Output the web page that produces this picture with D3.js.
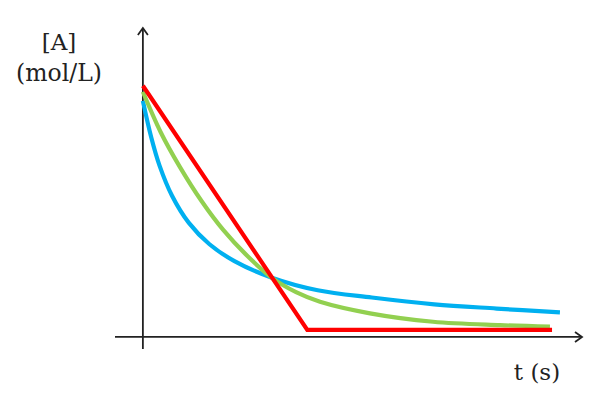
<!DOCTYPE html>
<html>
<head>
<meta charset="utf-8">
<script src="https://cdn.jsdelivr.net/npm/d3@7"></script>
<style>
html,body{margin:0;padding:0;background:#fff;}
svg{display:block;}
text{font-family:"DejaVu Serif",serif;fill:#222;}
</style>
</head>
<body>
<svg id="chart" width="600" height="400"></svg>
<script>
// Data (t in arbitrary units, concentration relative to red's initial value)
const redT   = [0, 39.5, 98.3];
const redC   = [1.0, 0.028, 0.028];
const greenT = [0, 4.28, 8.91, 14.13, 19.25, 25.0, 30.95, 36.8, 42.55, 54.56, 69.7, 85.8, 97.8];
const greenC = [0.976, 0.815, 0.676, 0.540, 0.427, 0.324, 0.236, 0.178, 0.140, 0.094, 0.0605, 0.047, 0.041];
const blueT  = [0, 2, 4, 7, 11, 16, 22, 31, 42, 55, 70, 85, 100.2];
const blueC  = [0.940, 0.795, 0.682, 0.562, 0.455, 0.369, 0.302, 0.236, 0.186, 0.157, 0.130, 0.113, 0.0975];
const yLabel = ["[A]", "(mol/L)"];
const xLabel = "t (s)";

const svg = d3.select("#chart");
const x = d3.scaleLinear().domain([-6.7, 105.5]).range([115, 582]);
const y = d3.scaleLinear().domain([-0.048, 1.23]).range([349, 28]);

// axes
const axisColor = "#222";
const aw = 1.8;
svg.append("line")
  .attr("x1", x(x.domain()[0])).attr("x2", x(x.domain()[1]))
  .attr("y1", y(0)).attr("y2", y(0))
  .attr("stroke", axisColor).attr("stroke-width", aw);
svg.append("line")
  .attr("x1", x(0)).attr("x2", x(0))
  .attr("y1", y(y.domain()[0])).attr("y2", y(y.domain()[1]))
  .attr("stroke", axisColor).attr("stroke-width", aw);
// arrowheads
const xt = [x(x.domain()[1]), y(0)];
svg.append("path")
  .attr("d", `M${xt[0]-7},${xt[1]-5}L${xt[0]},${xt[1]}L${xt[0]-7},${xt[1]+5}`)
  .attr("fill", "none").attr("stroke", axisColor).attr("stroke-width", aw);
const yt = [x(0), y(y.domain()[1])];
svg.append("path")
  .attr("d", `M${yt[0]-5},${yt[1]+7}L${yt[0]},${yt[1]}L${yt[0]+5},${yt[1]+7}`)
  .attr("fill", "none").attr("stroke", axisColor).attr("stroke-width", aw);

const series = [
  {t: blueT, c: blueC, color: "#00b0f0", curve: d3.curveCatmullRom.alpha(0.5)},
  {t: greenT, c: greenC, color: "#92d050", curve: d3.curveCatmullRom.alpha(0.5)},
  {t: redT, c: redC, color: "#ff0000", curve: d3.curveLinear}
];
series.forEach(s => {
  const pts = s.t.map((t, i) => [t, s.c[i]]);
  const line = d3.line().x(d => x(d[0])).y(d => y(d[1])).curve(s.curve);
  svg.append("path").datum(pts)
    .attr("d", line)
    .attr("fill", "none")
    .attr("stroke", s.color)
    .attr("stroke-width", 4.2)
    .attr("stroke-linejoin", "miter")
    .attr("stroke-linecap", "butt");
});

// labels
svg.append("text").attr("x", 59).attr("y", 50).attr("text-anchor", "middle")
  .attr("font-size", 23).text(yLabel[0]);
svg.append("text").attr("x", 59).attr("y", 81).attr("text-anchor", "middle")
  .attr("font-size", 23.5).text(yLabel[1]);
svg.append("text").attr("x", 537).attr("y", 380).attr("text-anchor", "middle")
  .attr("font-size", 23).text(xLabel);
</script>
</body>
</html>
